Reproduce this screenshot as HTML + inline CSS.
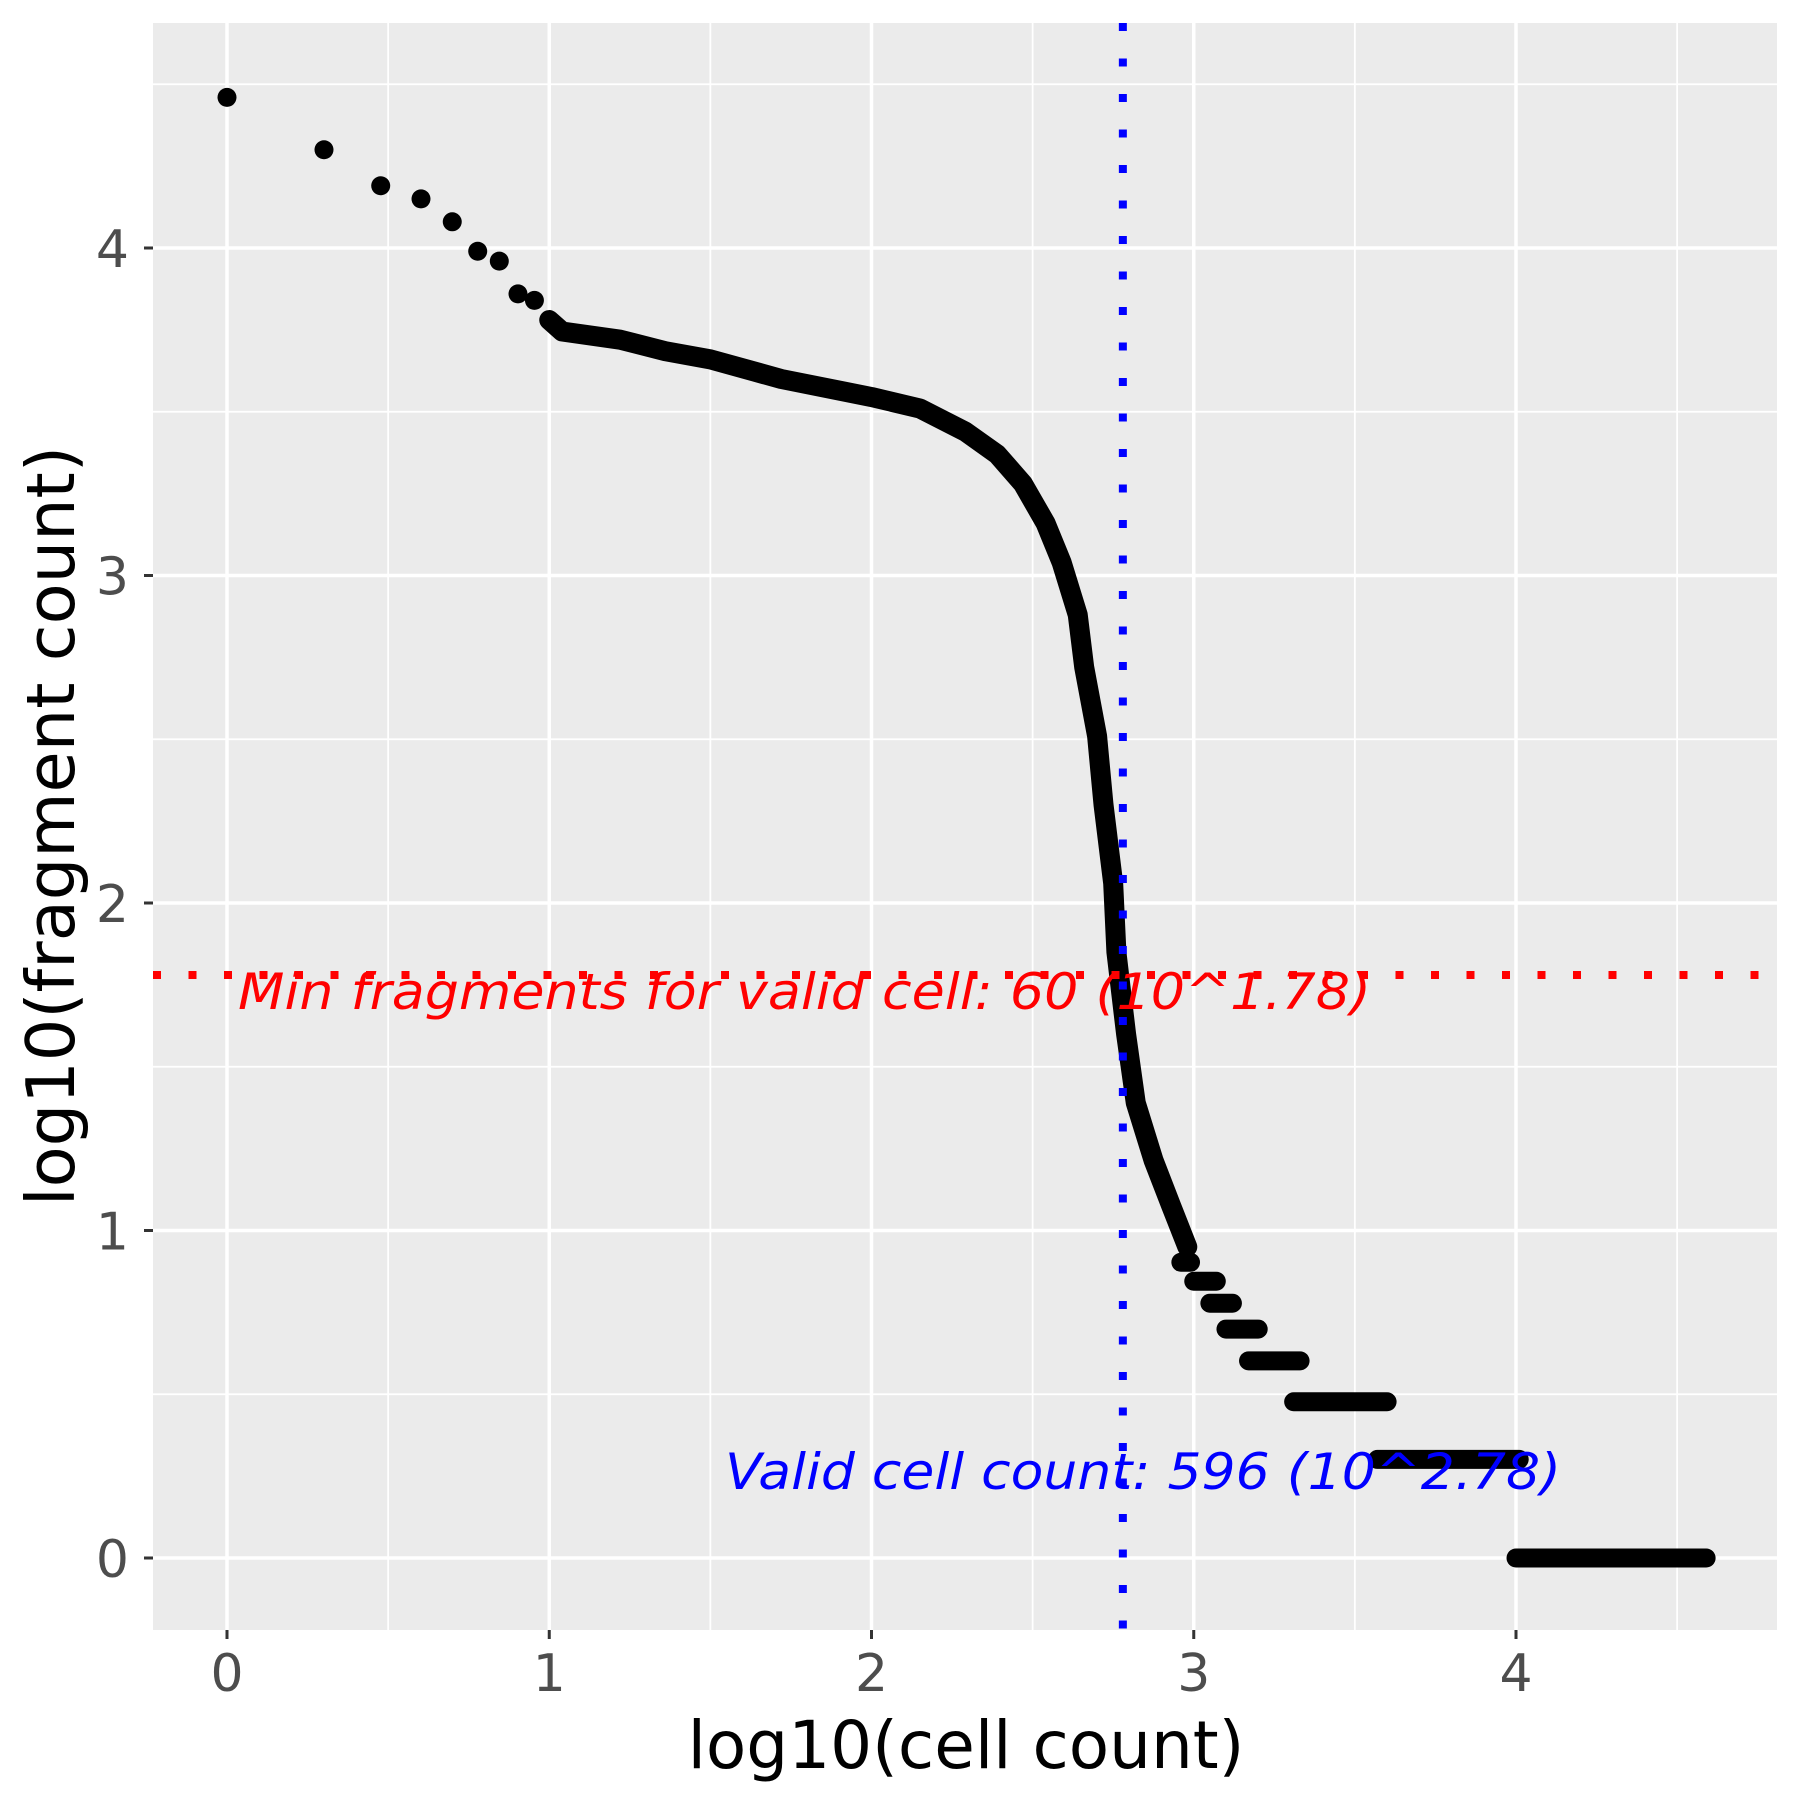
<!DOCTYPE html>
<html><head><meta charset="utf-8"><style>
html,body{margin:0;padding:0;background:#fff;width:1800px;height:1800px;overflow:hidden}
svg{display:block;font-family:"DejaVu Sans","Liberation Sans",sans-serif}
</style></head><body>
<svg id="chart" width="1800" height="1800" viewBox="0 0 1800 1800" xmlns="http://www.w3.org/2000/svg">
<rect x="0" y="0" width="1800" height="1800" fill="#fff"/>
<rect x="153" y="23" width="1624" height="1607" fill="#ebebeb"/>
<g id="grid"></g><g id="marks"></g><g id="refs"></g><g id="axes"></g>
<text x="966" y="1768" font-size="66" text-anchor="middle" fill="#000">log10(cell count)</text>
<text transform="translate(74,826) rotate(-90)" font-size="67" text-anchor="middle" fill="#000">log10(fragment count)</text>
</svg>
<script>
// sparse leading points (log10 rank, log10 fragments)
const sparseX = [0, 0.301, 0.477, 0.602, 0.699, 0.778, 0.845, 0.903, 0.954, 1.0];
const sparseY = [4.46, 4.30, 4.19, 4.15, 4.08, 3.99, 3.96, 3.86, 3.84, 3.78];
// dense curve knots
const curveX = [1.0,1.04,1.22,1.36,1.5,1.72,2.0,2.15,2.29,2.39,2.47,2.54,2.59,2.64,2.66,2.70,2.72,2.75,2.76,2.79,2.82,2.875,2.93,2.98];
const curveY = [3.78,3.745,3.72,3.685,3.66,3.60,3.545,3.51,3.44,3.37,3.28,3.16,3.04,2.88,2.72,2.51,2.30,2.06,1.85,1.60,1.39,1.215,1.075,0.95];
// tied-count plateaus
const stepY = [0.903,0.845,0.778,0.699,0.602,0.477,0.301,0];
const stepStart = [2.96,3.0,3.05,3.10,3.17,3.31,3.57,4.0];
const stepEnd = [2.99,3.07,3.12,3.20,3.33,3.60,4.01,4.59];
const xTicks = [0,1,2,3,4];
const yTicks = [0,1,2,3,4];
const minFragLog = 1.78;
const validCellLog = 2.78;

const NS="http://www.w3.org/2000/svg";
const X=v=>227+v*322.25, Y=v=>1558-v*327.5;
const L=153,R=1777,T=23,B=1630;
function mk(tag,attrs,parent){const e=document.createElementNS(NS,tag);for(const k in attrs)e.setAttribute(k,attrs[k]);parent.appendChild(e);return e;}
const grid=document.getElementById('grid'),marks=document.getElementById('marks'),refs=document.getElementById('refs'),axes=document.getElementById('axes');
for(let v=-0.5;v<=4.6;v+=0.5){const x=X(v);if(x<L||x>R)continue;const major=Number.isInteger(v);
 const g=mk('line',{x1:x,x2:x,y1:T,y2:B,stroke:'#fff','stroke-width':major?3.5:1.8},grid);
 
 }
for(let v=-0.5;v<=4.6;v+=0.5){const y=Y(v);if(y<T||y>B)continue;const major=Number.isInteger(v);
 const g=mk('line',{x1:L,x2:R,y1:y,y2:y,stroke:'#fff','stroke-width':major?3.5:1.8},grid);
 
 }
sparseX.forEach((v,i)=>{const c=mk('circle',{cx:X(v),cy:Y(sparseY[i]),r:9.5,fill:'#000'},marks);
 
 });
const p=mk('polyline',{points:curveX.map((v,i)=>X(v)+','+Y(curveY[i])).join(' '),fill:'none',stroke:'#000','stroke-width':20,'stroke-linecap':'round','stroke-linejoin':'round'},marks);


stepY.forEach((v,i)=>{const s=mk('line',{x1:X(stepStart[i]),x2:X(stepEnd[i]),y1:Y(v),y2:Y(v),stroke:'#000','stroke-width':19,'stroke-linecap':'round'},marks);
 
 });
const hl=mk('line',{x1:L,x2:R,y1:Y(minFragLog),y2:Y(minFragLog),stroke:'#ff0000','stroke-width':8,'stroke-dasharray':'8 27.5'},refs);


const vl=mk('line',{x1:X(validCellLog),x2:X(validCellLog),y1:T,y2:B,stroke:'#0000ff','stroke-width':8,'stroke-dasharray':'8 27.5'},refs);


const t1=mk('text',{x:238,y:1009,'font-size':50,'font-style':'italic',fill:'#ff0000',textLength:1133,lengthAdjust:'spacingAndGlyphs'},refs);
t1.textContent='Min fragments for valid cell: 60 (10^1.78)';


const t2=mk('text',{x:725,y:1489,'font-size':50,'font-style':'italic',fill:'#0000ff',textLength:836,lengthAdjust:'spacingAndGlyphs'},refs);
t2.textContent='Valid cell count: 596 (10^2.78)';


xTicks.forEach(v=>{const x=X(v);
 const t=mk('line',{x1:x,x2:x,y1:B,y2:B+9,stroke:'#333','stroke-width':3},axes);
 
 
 const l=mk('text',{x:x,y:1691,'font-size':52,'text-anchor':'middle',fill:'#4d4d4d'},axes);l.textContent=v;
 
 });
yTicks.forEach(v=>{const y=Y(v);
 const t=mk('line',{x1:L-9,x2:L,y1:y,y2:y,stroke:'#333','stroke-width':3},axes);
 
 
 const l=mk('text',{x:129,y:y+19,'font-size':52,'text-anchor':'end',fill:'#4d4d4d'},axes);l.textContent=v;
 
 });
</script>
</body></html>
